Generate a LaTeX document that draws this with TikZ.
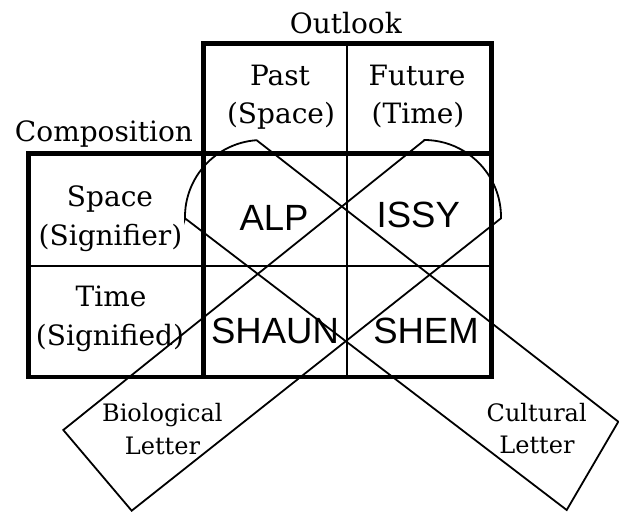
\documentclass[tikz,border=0pt]{standalone}
\usepackage{fontspec}
\setmainfont{DejaVu Serif}
\newfontfamily\sansfnt{Liberation Sans}
\begin{document}
\begin{tikzpicture}[x=1pt,y=1pt,
  lab/.style={inner sep=0pt, anchor=base, font=\fontsize{28}{30}\selectfont},
  smalllab/.style={inner sep=0pt, anchor=base, font=\fontsize{24}{26}\selectfont},
  cell/.style={inner sep=0pt, anchor=base, font=\sansfnt\fontsize{36.5}{38}\selectfont},
  thickline/.style={line width=4.5pt},
  thinline/.style={line width=2pt},
  strip/.style={line width=1.8pt, line join=miter}]
\useasboundingbox (0,0) rectangle (619,-512);

% strips
\draw[strip] (185,-218.3) -- (566.7,-510) -- (618.3,-421.7) -- (256.6,-140.2)
  arc[start angle=94, end angle=181, radius=77] -- cycle;
\draw[strip] (424.7,-140) -- (63.3,-430) -- (131.7,-510.7) -- (501,-218.3)
  arc[start angle=-1, end angle=89.5, radius=77] -- cycle;

% grid
\draw[thickline] (203.5,-43.3) rectangle (491.5,-377);
\draw[thickline] (28.3,-153.3) rectangle (491.5,-377);
\draw[thinline] (346.5,-43.3) -- (346.5,-377);
\draw[thinline] (28.3,-266) -- (491.5,-266);

% labels
\node[lab] (outlook) at (345.8,-33.3) {Outlook};
\node[lab] (past) at (280,-85) {Past};
\node[lab] (pastsp) at (281,-123) {(Space)};
\node[lab] (future) at (417,-85) {Future};
\node[lab] (futti) at (418,-123) {(Time)};
\node[lab] (comp) at (104,-141) {Composition};
\node[lab] (space) at (110,-206) {Space};
\node[lab] (signifier) at (110.5,-245) {(Signifier)};
\node[lab] (time) at (111,-306.7) {Time};
\node[lab] (signified) at (110,-345) {(Signified)};

\node[cell] (alp) at (274,-230) {ALP};
\node[cell] (issy) at (418.3,-227) {ISSY};
\node[cell] (shaun) at (275,-343) {SHAUN};
\node[cell] (shem) at (426,-343) {SHEM};

\node[smalllab] (bio) at (162.3,-421.7) {Biological};
\node[smalllab] (biolet) at (162.5,-454) {Letter};
\node[smalllab] (cult) at (536.7,-421.7) {Cultural};
\node[smalllab] (cultlet) at (537,-453.3) {Letter};
\end{tikzpicture}
\end{document}
